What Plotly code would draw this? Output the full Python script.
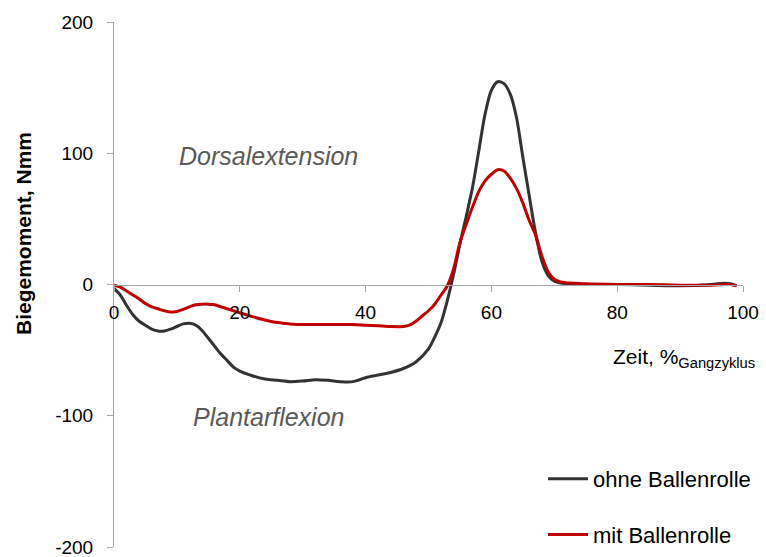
import plotly.graph_objects as go

# Data
x_ohne = [0,1,2,3,4,5,6,7,8,9,10,11,12,13,14,15,16,17,18,19,20,22,24,26,28,30,32,34,36,38,40,42,44,46,48,50,51,52,53,54,55,56,57,58,59,60,61,62,63,64,65,66,67,68,69,70,72,75,80,85,90,95,97,98,99]
y_ohne = [-3,-8,-16,-23,-28,-31,-34,-35.5,-35.5,-34,-32,-30,-29.5,-31,-35,-41,-47,-53,-58,-63,-66,-69.5,-72,-73,-74,-73.5,-72.5,-73,-74,-74,-71,-69,-67,-64,-59,-49,-40,-29,-12,8,31,52,74,102,130,148,154.5,153,145,127,97,68,40,18,7,2.5,0.5,0,0,-0.5,-1,0,1,0.5,-1]

x_mit = [0,1,2,3,4,5,6,7,8,9,10,11,12,13,14,15,16,17,18,19,20,22,24,26,28,30,32,34,36,38,40,42,44,46,47,48,49,50,51,52,53,54,55,56,57,58,59,60,61,62,63,64,65,66,67,68,69,70,71,75,80,85,90,95,97,98,99]
y_mit = [-0.5,-2,-5,-8,-11,-14.5,-17,-18.5,-20,-21,-20.5,-19,-17,-15.5,-15,-15,-15.5,-17,-18.5,-20,-21.5,-24.5,-27,-29,-30,-30.5,-30.5,-30.5,-30.5,-30.5,-31,-31.5,-32,-32,-31,-28,-24,-20,-15,-8,-1,12,32,46,59,71,79,84,87.5,86.5,81,73,62,49,38,22,10,4,2,0.5,0,0,-0.5,-0.5,0,0,-1]

x_ticks = [0, 20, 40, 60, 80, 100]
x_ticktext = ["0", "20", "40", "60", "80", "100"]
y_ticks = [-200, -100, 0, 100, 200]
y_ticktext = ["-200", "-100", "0", "100", "200"]

FONT = "Liberation Sans, Arial, sans-serif"
L, R, T, B = 114, 23, 22, 10
PW = 766 - L - R
PH = 557 - T - B

fig = go.Figure()
fig.add_trace(go.Scatter(x=x_ohne, y=y_ohne, mode="lines", name="ohne Ballenrolle",
                         legendgroup="a", line=dict(color="#333333", width=3, shape="spline", smoothing=0.8)))
fig.add_trace(go.Scatter(x=x_mit, y=y_mit, mode="lines", name="mit Ballenrolle",
                         legendgroup="b", line=dict(color="#C00000", width=3, shape="spline", smoothing=0.8)))

fig.update_layout(
    width=766, height=557,
    margin=dict(l=L, r=R, t=T, b=B, autoexpand=False),
    paper_bgcolor="white", plot_bgcolor="white",
    font=dict(family=FONT, size=19, color="#000000"),
    showlegend=True,
    legend=dict(x=(543 - L) / PW, y=(557 - B - 458) / PH, xanchor="left", yanchor="top",
                tracegroupgap=24, itemwidth=40, font=dict(size=22, color="#000000"),
                bgcolor="rgba(0,0,0,0)"),
    xaxis=dict(range=[0, 100], tickvals=x_ticks, ticktext=x_ticktext, showgrid=False, zeroline=False,
               showline=True, linecolor="#A6A6A6", linewidth=1,
               ticks="outside", ticklen=6, tickcolor="#A6A6A6",
               anchor="free", position=0.5, ticklabelstandoff=5,
               ticklabeloverflow="allow", tickfont=dict(size=19)),
    yaxis=dict(range=[-200, 200], tickvals=y_ticks, ticktext=y_ticktext, showgrid=False, zeroline=False,
               showline=True, linecolor="#A6A6A6", linewidth=1,
               ticks="outside", ticklen=6, tickcolor="#A6A6A6", ticklabelstandoff=10,
               ticklabeloverflow="allow", tickfont=dict(size=19)),
    annotations=[
        dict(text="<b>Biegemoment, Nmm</b>", xref="paper", yref="paper",
             x=-(L - 23) / PW, y=(557 - B - 234) / PH, textangle=-90,
             showarrow=False, font=dict(size=21, color="#000000"),
             xanchor="center", yanchor="middle"),
        dict(text="Zeit, %<sub>Gangzyklus</sub>", xref="paper", yref="paper",
             x=(757 - L) / PW, y=(557 - B - 358) / PH, xanchor="right", yanchor="middle",
             showarrow=False, font=dict(size=21, color="#000000")),
        dict(text="<i>Dorsalextension</i>", xref="x", yref="y", x=24.5, y=98,
             showarrow=False, font=dict(size=25, color="#595959")),
        dict(text="<i>Plantarflexion</i>", xref="x", yref="y", x=24.5, y=-101,
             showarrow=False, font=dict(size=25, color="#595959")),
    ],
)

fig.write_html("out.html", config={"displayModeBar": False},
               post_script="document.body.style.margin='0';document.body.style.overflow='hidden';")
